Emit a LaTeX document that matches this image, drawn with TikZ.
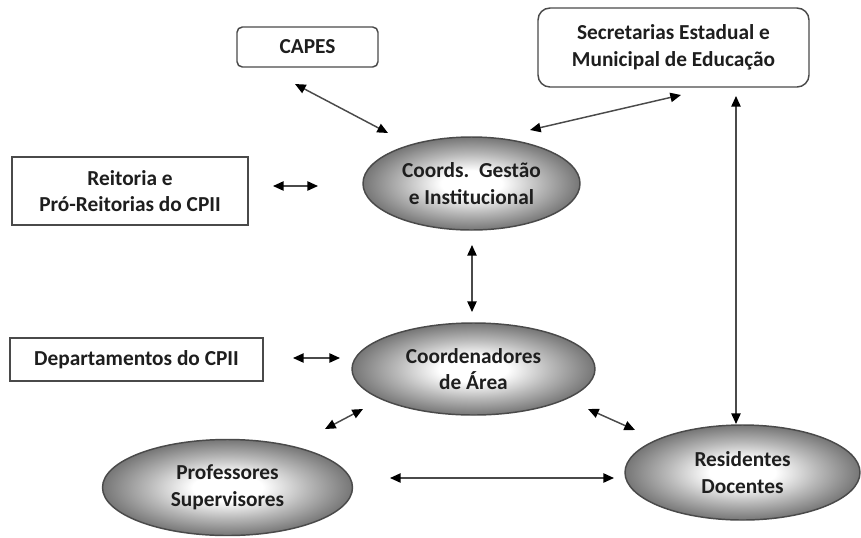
\documentclass[tikz,border=0pt]{standalone}
\usepackage{fontspec}
\setmainfont{Carlito}
\usetikzlibrary{arrows.meta,shapes.geometric}
\definecolor{txt}{HTML}{1E1E1E}
\definecolor{edge}{HTML}{4A4A4A}
\definecolor{shadeout}{HTML}{767676}
\definecolor{shademid}{HTML}{B8B8B8}
\pgfdeclareradialshading{ovalshade}{\pgfpoint{0bp}{0bp}}{color(0bp)=(white); color(7bp)=(white); color(16bp)=(shademid); color(25bp)=(shadeout); color(50bp)=(shadeout)}
\begin{document}
\begin{tikzpicture}[x=0.75pt,y=-0.75pt,
  lbl/.style={font=\bfseries\fontsize{16pt}{20pt}\selectfont,text=txt,align=center},
  boxnode/.style={draw=edge,line width=1.1pt,fill=white},
  oval/.style={ellipse,draw=edge,line width=1.1pt,inner sep=0pt,
    shading=ovalshade,
    font=\bfseries\fontsize{16pt}{20pt}\selectfont,text=txt,align=center},
  link/.style={draw=edge,line width=1.1pt,
    {Triangle[length=8pt,width=7pt,black]}-{Triangle[length=8pt,width=7pt,black]}}
]
\useasboundingbox (0,0) rectangle (861,537);
% boxes
\draw[boxnode,rounded corners=4pt] (237,27) rectangle (378,67);
\node[lbl] (capes) at (307.5,47) {CAPES};
\draw[boxnode,rounded corners=9pt] (538,8) rectangle (809,87);
\node[lbl] (secr) at (673.5,47.5) {Secretarias Estadual e\\Municipal de Educação};
\draw[boxnode] (12,157) rectangle (248,225);
\node[lbl] (reit) at (130,191) {Reitoria e\\Pró-Reitorias do CPII};
\draw[boxnode] (10,338) rectangle (263,381);
\node[lbl] (dept) at (136.5,359.5) {Departamentos do CPII};
% ellipses
\node[oval,minimum width=162.75pt,minimum height=69.75pt] (gest) at (471.5,183.5) {Coords.\ \ Gestão\\e Institucional};
\node[oval,minimum width=182.25pt,minimum height=69pt] (area) at (473.5,369) {Coordenadores\\de Área};
\node[oval,minimum width=187.5pt,minimum height=72pt] (prof) at (227.5,487.5) {Professores\\Supervisores};
\node[oval,minimum width=176.25pt,minimum height=71.25pt] (resi) at (742.5,472.5) {Residentes\\Docentes};
% arrow end points
\coordinate (a1) at (295,84);  \coordinate (b1) at (388,133);
\coordinate (a2) at (530,130); \coordinate (b2) at (681,95);
\coordinate (a3) at (273,186); \coordinate (b3) at (318,186);
\coordinate (a4) at (472,245); \coordinate (b4) at (472,312);
\coordinate (a5) at (293,358); \coordinate (b5) at (340,358);
\coordinate (a6) at (325,429); \coordinate (b6) at (363,409);
\coordinate (a7) at (588,409); \coordinate (b7) at (635,430);
\coordinate (a8) at (390,478); \coordinate (b8) at (614,478);
\coordinate (a9) at (736,96);  \coordinate (b9) at (736,424);
\foreach \i in {1,...,9} {\draw[link] (a\i) -- (b\i);}
\end{tikzpicture}
\end{document}
